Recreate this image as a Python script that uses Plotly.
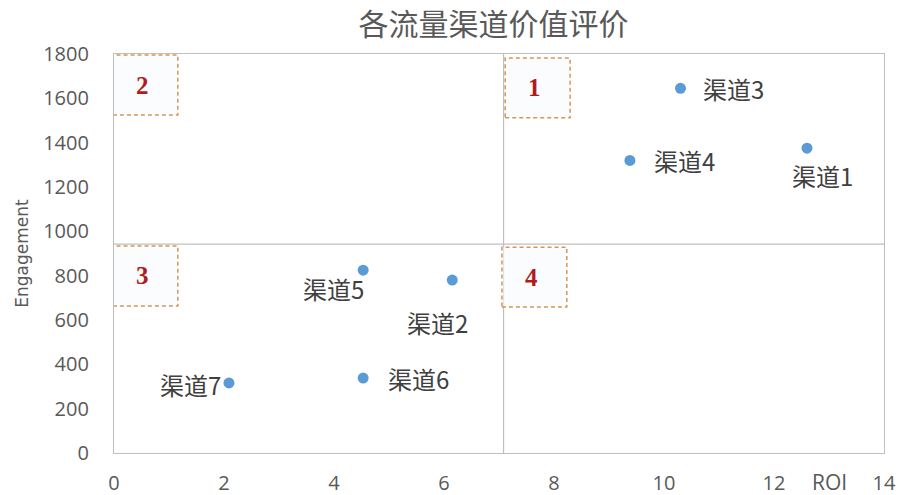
import plotly.graph_objects as go

# Channel data: ROI vs engagement
channels = ["渠道1", "渠道2", "渠道3", "渠道4", "渠道5", "渠道6", "渠道7"]
roi = [12.6, 6.15, 10.3, 9.38, 4.53, 4.53, 2.09]
engagement = [1375, 780, 1645, 1320, 825, 338, 316]

x_ticks = [0, 2, 4, 6, 8, 10, 12, 14]
y_ticks = [0, 200, 400, 600, 800, 1000, 1200, 1400, 1600, 1800]

# Quadrant dividers at the averages
x_split = sum(roi) / len(roi)
y_split = sum(engagement) / len(engagement)

quadrants = ["1", "2", "3", "4"]

CJK = "Noto Sans CJK SC, Noto Sans, sans-serif"
LATIN = "Open Sans, sans-serif"
GREY = "#595959"
LINE = "#bfbfbf"

# Label placement next to each point: (xanchor, xshift, yshift) in pixels
label_style = {
    "渠道1": ("center", 15, -27),
    "渠道2": ("center", -15, -42),
    "渠道3": ("left", 20, 0),
    "渠道4": ("left", 22, 0),
    "渠道5": ("right", 3, -18),
    "渠道6": ("left", 23, 0),
    "渠道7": ("right", -6, -2),
}

fig = go.Figure()
fig.add_trace(go.Scatter(
    x=roi, y=engagement, mode="markers",
    marker=dict(size=11, color="#5b9bd5"),
    cliponaxis=False, showlegend=False, hovertext=channels,
))

for name, xv, yv in zip(channels, roi, engagement):
    anchor, dx, dy = label_style[name]
    fig.add_annotation(x=xv, y=yv, xref="x", yref="y", text=name, showarrow=False,
                       xanchor=anchor, yanchor="middle", xshift=dx, yshift=dy,
                       font=dict(family=CJK, size=24, color="#404040"))

# Quadrant separation lines
fig.add_shape(type="line", xref="x", yref="y", x0=x_split, x1=x_split, y0=0, y1=1800,
              line=dict(color=LINE, width=1.2), layer="below")
fig.add_shape(type="line", xref="x", yref="y", x0=0, x1=14, y0=y_split, y1=y_split,
              line=dict(color=LINE, width=1.2), layer="below")

# Numbered quadrant tags: top-left corner of each box in data units
box_w, box_h = 1.18, 270
tag_corners = {
    "1": (x_split + 0.03, 1782),
    "2": (-0.02, 1795),
    "3": (-0.02, y_split - 9),
    "4": (x_split - 0.03, y_split - 14),
}
for q in quadrants:
    x0, ytop = tag_corners[q]
    fig.add_shape(type="rect", xref="x", yref="y", x0=x0, x1=x0 + box_w,
                  y0=ytop - box_h, y1=ytop,
                  line=dict(color="#d4965a", width=1.5, dash="4px,3px"),
                  fillcolor="rgba(248,250,251,0.6)")
    fig.add_annotation(x=x0 + box_w / 2, y=ytop - box_h / 2, xref="x", yref="y",
                       text="<b>" + q + "</b>", showarrow=False, xshift=-3,
                       font=dict(family="Liberation Serif, serif", size=25, color="#b01c1c"))

# ROI axis title sits in the tick-label row
fig.add_annotation(x=13.0, y=0, xref="x", yref="paper", yanchor="middle", yshift=-29,
                   text="ROI", showarrow=False, font=dict(family=LATIN, size=21, color=GREY))

fig.update_layout(
    width=904, height=495,
    margin=dict(l=114, r=20, t=54, b=42),
    paper_bgcolor="white", plot_bgcolor="white",
    title=dict(text="各流量渠道价值评价", x=493.5 / 904, xanchor="center", y=1 - 24 / 495,
               yanchor="middle", font=dict(family=CJK, size=30, color=GREY)),
    xaxis=dict(range=[0, 14], tickvals=x_ticks, showgrid=False, zeroline=False,
               showline=True, linecolor=LINE, linewidth=1.2, mirror=True, automargin=False,
               tickfont=dict(family=LATIN, size=20, color=GREY),
               ticks="", ticklabelstandoff=12),
    yaxis=dict(range=[0, 1800], tickvals=y_ticks, showgrid=False, zeroline=False,
               showline=True, linecolor=LINE, linewidth=1.2, mirror=True, automargin=False,
               tickfont=dict(family=LATIN, size=20, color=GREY),
               ticks="", ticklabelstandoff=20,
               title=dict(text="Engagement", standoff=10,
                          font=dict(family="DejaVu Sans, sans-serif", size=17, color=GREY))),
)

fig.write_html("out.html")
